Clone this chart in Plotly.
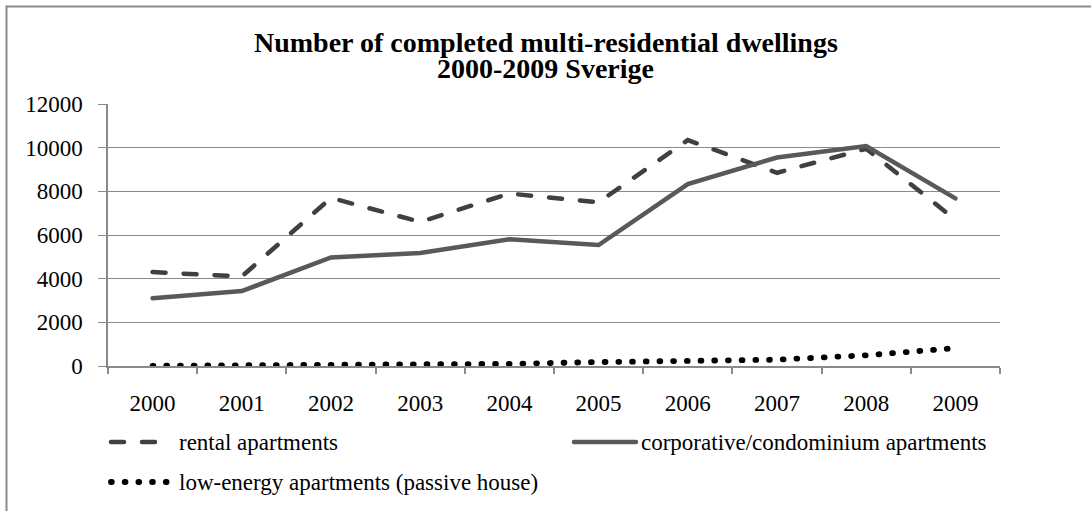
import plotly.graph_objects as go

# Completed multi-residential dwellings per year, Sweden
years = ["2000", "2001", "2002", "2003", "2004", "2005", "2006", "2007", "2008", "2009"]
rental = [4300, 4100, 7700, 6600, 7900, 7500, 10350, 8850, 9950, 6700]
condo = [3100, 3430, 4970, 5180, 5800, 5540, 8330, 9550, 10070, 7680]
low_energy = [10, 30, 50, 70, 100, 180, 230, 290, 490, 820]

series_names = [
    "rental apartments",
    "corporative/condominium apartments",
    "low-energy apartments (passive house)",
]
title_lines = ["Number of completed multi-residential dwellings", "2000-2009 Sverige"]

W, H = 1091, 511
L, R, T, B = 108, 91, 104, 145
PW, PH = W - L - R, H - T - B

FONT = "Liberation Serif"
GRID = "#8a8a8a"
DASH_COLOR = "#404040"
SOLID_COLOR = "#595959"


def px(x):
    return (x - L) / PW


def py(y):
    return (H - B - y) / PH


# dash lengths assume round line caps (set after rendering)
styles = [
    dict(color=DASH_COLOR, width=4.5, dash="13px,18px"),
    dict(color=SOLID_COLOR, width=4.5, dash="solid"),
    dict(color="#000000", width=5.8, dash="0.8px,12.9px"),
]

fig = go.Figure()
for name, vals, st in zip(series_names, [rental, condo, low_energy], styles):
    fig.add_trace(go.Scatter(
        x=years, y=vals, name=name, mode="lines",
        line=st, showlegend=False, hoverinfo="skip",
    ))

shapes = []
annotations = []

# outer frame (top and left edges)
shapes.append(dict(type="line", xref="paper", yref="paper",
                   x0=px(6.5), x1=px(W + 5), y0=py(6.5), y1=py(6.5),
                   line=dict(color="#8c8c8c", width=2)))
shapes.append(dict(type="line", xref="paper", yref="paper",
                   x0=px(6.5), x1=px(6.5), y0=py(6.5), y1=py(H + 5),
                   line=dict(color="#8c8c8c", width=2)))

# title, two tightly spaced lines
for text, yc in zip(title_lines, [42.5, 69]):
    annotations.append(dict(text="<b>%s</b>" % text, xref="paper", yref="paper",
                            x=px(W / 2), y=py(yc), xanchor="center", yanchor="middle",
                            showarrow=False, font=dict(family=FONT, size=28, color="#000")))

# legend
legend_items = [
    (series_names[0], styles[0], 111, 163, 442, 177),
    (series_names[1], styles[1], 574, 636, 442, 639),
    (series_names[2], styles[2], 111, 170, 482, 177),
]
for name, st, x0, x1, yc, xt in legend_items:
    shapes.append(dict(type="line", xref="paper", yref="paper",
                       x0=px(x0), x1=px(x1), y0=py(yc), y1=py(yc),
                       line=dict(color=st["color"], width=st["width"], dash=st["dash"])))
    annotations.append(dict(text=name, xref="paper", yref="paper",
                            x=px(xt), y=py(yc),
                            xanchor="left", yanchor="middle", showarrow=False,
                            font=dict(family=FONT, size=23, color="#000")))

fig.update_layout(
    width=W, height=H,
    margin=dict(l=L, r=R, t=T, b=B),
    paper_bgcolor="white", plot_bgcolor="white",
    font=dict(family=FONT, size=23, color="#000"),
    shapes=shapes, annotations=annotations,
    showlegend=False,
    xaxis=dict(
        type="category", categoryorder="array", categoryarray=years,
        range=[-0.5, 9.5], tickson="boundaries",
        showline=True, linecolor=GRID, linewidth=1.5,
        ticks="outside", ticklen=6, tickcolor=GRID, tickwidth=1.5,
        showgrid=False, ticklabelstandoff=16,
        tickfont=dict(family=FONT, size=23, color="#000"),
    ),
    yaxis=dict(
        range=[0, 12000], dtick=2000, tick0=0, tickformat="d",
        showline=True, linecolor=GRID, linewidth=1.5,
        ticks="outside", ticklen=8, tickcolor=GRID, tickwidth=1.3,
        showgrid=True, gridcolor=GRID, gridwidth=1.3, zeroline=False,
        ticklabelstandoff=11,
        tickfont=dict(family=FONT, size=23, color="#000"),
    ),
)

# round line caps for the dashed/dotted series and legend samples
round_caps = (
    "var gd=document.getElementById('{plot_id}');"
    "gd.querySelectorAll('.scatterlayer .js-line, .shapelayer path')"
    ".forEach(function(p){p.style.strokeLinecap='round';});"
)

fig.write_html("out.html", config={"displayModeBar": False}, post_script=round_caps)
